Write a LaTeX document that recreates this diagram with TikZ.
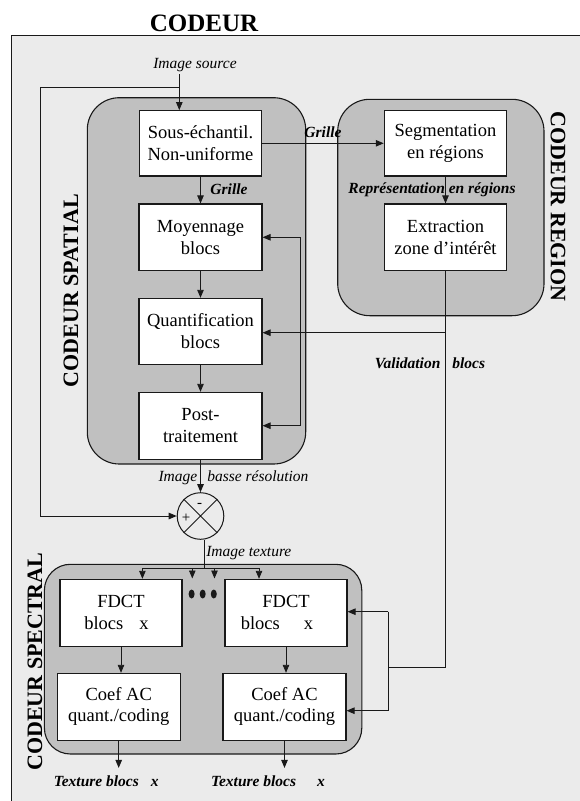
\documentclass[tikz,border=0pt]{standalone}
\usepackage{fontspec}
\setmainfont{Liberation Serif}
\usetikzlibrary{arrows.meta,calc}
\definecolor{bgc}{RGB}{235,235,235}
\definecolor{contc}{RGB}{192,192,192}
\definecolor{linec}{RGB}{25,25,25}
\begin{document}
\begin{tikzpicture}[x=1pt,y=-1pt,
  box/.style={draw=linec, line width=1.1pt, fill=white, inner sep=0pt, align=center,
              font=\fontsize{18.5}{21.5}\selectfont},
  cont/.style={draw=linec, line width=1.1pt, fill=contc},
  arr/.style={draw=linec, line width=0.9pt, -{Triangle[length=8pt,width=6.5pt]}},
  ln/.style={draw=linec, line width=0.9pt},
  lab/.style={font=\fontsize{15.5}{18}\selectfont\itshape, inner sep=0pt},
  blab/.style={font=\fontsize{15.5}{18}\selectfont\bfseries\itshape, inner sep=0pt},
  ttl/.style={font=\fontsize{22}{24}\selectfont\bfseries, inner sep=0pt}]
\useasboundingbox (0,0) rectangle (580,801);
% background frame
\fill[bgc] (11,35.7) rectangle (580,801);
\draw[linec, line width=1pt] (11,801) -- (11,35.7) -- (580,35.7);
% containers
\draw[cont, rounded corners=32pt] (87.3,97.7) rectangle (305.7,464);
\draw[cont, rounded corners=32pt] (337.7,99.3) rectangle (544,315.7);
\draw[cont, rounded corners=26pt] (44.4,564.3) rectangle (361.8,754);
% titles
\node[ttl, font=\fontsize{25}{28}\selectfont\bfseries, anchor=base] (title) at (204,31.7) {CODEUR};
\node[ttl, rotate=90] (tsp) at (71,290.7) {CODEUR SPATIAL};
\node[ttl, rotate=-90] (treg) at (558,206.5) {CODEUR REGION};
\node[ttl, rotate=90] (tspec) at (35,661.7) {CODEUR SPECTRAL};
% boxes
\node[box, minimum width=122pt, minimum height=65.3pt] (sous) at (200.5,143.3) {Sous-échantil.\\Non-uniforme};
\node[box, minimum width=123pt, minimum height=66.7pt] (moy) at (200.5,237.3) {Moyennage\\blocs};
\node[box, minimum width=123pt, minimum height=65.7pt] (quant) at (200.5,331.2) {Quantification\\blocs};
\node[box, minimum width=123pt, minimum height=66.7pt] (post) at (200.5,425.7) {Post-\\traitement};
\node[box, minimum width=122.4pt, minimum height=65.3pt] (seg) at (445.5,143.3) {Segmentation\\en régions};
\node[box, minimum width=121.6pt, minimum height=66.7pt] (extr) at (445.5,237.3) {Extraction\\zone d’intérêt};
\node[box, minimum width=122pt, minimum height=66.7pt] (fdct1) at (121,612.7) {FDCT\\blocs\hspace{16pt}x\hspace{9pt}\mbox{}};
\node[box, minimum width=122pt, minimum height=66.7pt] (fdct2) at (286,612.7) {FDCT\\blocs\hspace{24pt}x\hspace{18pt}\mbox{}};
\node[box, minimum width=122.8pt, minimum height=66.7pt] (coef1) at (118.7,706.7) {Coef AC\\quant./coding};
\node[box, minimum width=123pt, minimum height=66.7pt] (coef2) at (284.5,706.7) {Coef AC\\quant./coding};
% summation
\node[draw=linec, line width=1pt, circle, minimum size=46.6pt, inner sep=0pt] (sum) at (200.5,516) {};
\draw[linec, line width=0.9pt] (sum.45) -- (sum.225) (sum.135) -- (sum.-45);
\node[font=\fontsize{15}{15}\selectfont, inner sep=0pt] (plus) at (186,518) {+};
\node[font=\fontsize{15}{15}\selectfont, inner sep=0pt] (minus) at (199.7,505) {-};
% labels
\node[lab, anchor=base] (lsrc) at (195,68.5) {Image source};
\node[blab, anchor=base] (lgr1) at (229,194) {Grille};
\node[blab, anchor=base] (lgr2) at (323,137.3) {Grille};
\node[blab, anchor=base] (lrep) at (432,193) {Représentation en régions};
\node[blab, anchor=base] (lval) at (430,368.5) {Validation\hspace{12pt}blocs};
\node[lab, anchor=base] (lbas) at (233.5,481.5) {Image\hspace{10pt}basse résolution};
\node[lab, anchor=base] (ltex) at (248.8,556) {Image texture};
\node[blab, anchor=base west] (ltb1) at (53.6,786) {Texture blocs\hspace{12pt}x};
\node[blab, anchor=base west] (ltb2) at (210.8,786) {Texture blocs\hspace{21pt}x};
% coordinates
\coordinate (srcTop) at (179.3,74);
\coordinate (jsrc) at (179.3,87.7);
\coordinate (lc1) at (40.7,87.7);
\coordinate (lc2) at (40.7,516);
\coordinate (fb1) at (300,237.3);
\coordinate (fb2) at (300,425.7);
\coordinate (j1) at (445.5,332.7);
\coordinate (j2) at (445.5,667.3);
\coordinate (j3) at (388.4,667.3);
\coordinate (j4) at (388.4,611.7);
\coordinate (j5) at (388.4,710.7);
\coordinate (dL) at (142.4,568);
\coordinate (dR) at (259,568);
\coordinate (dm1) at (192.3,568);
\coordinate (dm1e) at (192.3,578.5);
\coordinate (dm2) at (214.5,568);
\coordinate (dm2e) at (214.5,578.5);
% connectors
\draw[arr] (srcTop) -- (srcTop |- sous.north);
\draw[arr] (jsrc) -- (lc1) -- (lc2) -- (sum.west);
\draw[arr] (sous.east) -- (seg.west);
\draw[arr] (sous.south) -- (moy.north);
\draw[arr] (moy.south) -- (quant.north);
\draw[arr] (quant.south) -- (post.north);
\draw[arr] (post.south) -- (sum.north);
\draw[arr] (seg.south) -- (extr.north);
\draw[ln] (fb1) -- (fb2);
\draw[arr] (fb1) -- (moy.east);
\draw[arr] (fb2) -- (post.east);
\draw[ln] (extr.south) -- (j2);
\draw[arr] (j1) -- (j1 -| quant.east);
\draw[ln] (j2) -- (j3);
\draw[ln] (j4) -- (j5);
\draw[arr] (j4) -- (j4 -| fdct2.east);
\draw[arr] (j5) -- (j5 -| coef2.east);
\draw[ln] (sum.-81) -- (sum.-81 |- dL);
\draw[ln] (dL) -- (dR);
\draw[arr] (dL) -- (dL |- fdct1.north);
\draw[arr] (dm1) -- (dm1e);
\draw[arr] (dm2) -- (dm2e);
\draw[arr] (dR) -- (dR |- fdct2.north);
\draw[arr] (fdct1.south) -- (fdct1.south |- coef1.north);
\draw[arr] (fdct2.south) -- (fdct2.south |- coef2.north);
\draw[arr] (coef1.south) -- ++(0,27.3);
\draw[arr] (coef2.south) -- ++(0,27.3);
% dots
\fill[linec] (191.6,594) ellipse (3pt and 4.5pt);
\fill[linec] (202.7,594) ellipse (3pt and 4.5pt);
\fill[linec] (213.8,594) ellipse (3pt and 4.5pt);
\end{tikzpicture}
\end{document}
